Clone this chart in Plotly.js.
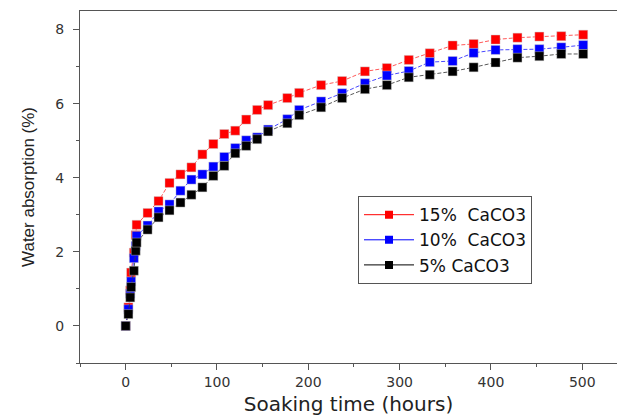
<!DOCTYPE html>
<html>
<head>
<meta charset="utf-8">
<script src="https://cdn.plot.ly/plotly-3.0.1.min.js"></script>
<style>
html, body { margin: 0; padding: 0; background: #fff; overflow: hidden; }
#chart { width: 617px; height: 416px; }
</style>
</head>
<body>
<div id="chart"></div>
<script>
// Soaking time (hours)
const hours = [0, 3, 5, 6, 9, 11, 12, 24, 36, 48, 60, 72, 84, 96, 108, 120, 132, 144, 156,
  177, 190, 214, 237, 262, 286, 310, 333, 358, 381, 405, 429, 453, 477, 501];
// Water absorption (%)
const caco3_15 = [0, 0.50, 0.96, 1.44, 1.98, 2.45, 2.73, 3.05, 3.37, 3.86, 4.09, 4.28, 4.63, 4.91, 5.18, 5.27, 5.57, 5.83, 5.96,
  6.15, 6.29, 6.50, 6.61, 6.87, 6.96, 7.18, 7.36, 7.57, 7.61, 7.73, 7.78, 7.81, 7.82, 7.86];
const caco3_10 = [0, 0.45, 0.87, 1.20, 1.83, 2.16, 2.43, 2.71, 3.09, 3.28, 3.65, 3.95, 4.09, 4.30, 4.56, 4.80, 5.01, 5.09, 5.30,
  5.58, 5.83, 6.06, 6.28, 6.55, 6.76, 6.88, 7.12, 7.15, 7.37, 7.45, 7.47, 7.47, 7.52, 7.58];
const caco3_5 = [0, 0.32, 0.77, 1.05, 1.49, 2.03, 2.25, 2.60, 2.93, 3.12, 3.33, 3.54, 3.74, 4.05, 4.32, 4.66, 4.86, 5.04, 5.25,
  5.47, 5.69, 5.90, 6.15, 6.39, 6.50, 6.71, 6.78, 6.87, 6.98, 7.11, 7.24, 7.28, 7.34, 7.34];
const seriesNames = ["15%\u00a0\u00a0CaCO3", "10%\u00a0\u00a0CaCO3", "5% CaCO3"];
const xTickVals = [0, 100, 200, 300, 400, 500];
const yTickVals = [0, 2, 4, 6, 8];

const colors = ["#ff0000", "#0000ff", "#000000"];
const lineColors = ["rgba(255,60,60,0.85)", "rgba(40,40,255,0.85)", "rgba(60,60,60,0.85)"];
const ys = [caco3_15, caco3_10, caco3_5];

const traces = [];
ys.forEach((y, i) => {
  traces.push({
    x: hours, y: y, type: "scatter", mode: "lines+markers",
    name: seriesNames[i], legendgroup: "g" + i, showlegend: false,
    line: { color: lineColors[i], width: 1, dash: "4px,2px" },
    marker: { symbol: "square", size: 9, color: colors[i], line: { color: "rgba(200,200,200,0.7)", width: 0.6 } }
  });
});
// legend entries (solid lines as in reference legend)
ys.forEach((y, i) => {
  traces.push({
    x: [null], y: [null], type: "scatter", mode: "lines+markers",
    name: seriesNames[i], legendgroup: "g" + i, showlegend: true,
    line: { color: colors[i], width: 1 },
    marker: { symbol: "square", size: 8, color: colors[i] }
  });
});

const axisFont = { family: "DejaVu Sans", size: 14, color: "#333" };
const layout = {
  width: 617, height: 416,
  margin: { l: 80, r: 0, t: 11, b: 53, pad: 0 },
  paper_bgcolor: "#fff", plot_bgcolor: "#fff",
  showlegend: true,
  xaxis: {
    range: [-50, 538], showgrid: false, zeroline: false,
    showline: true, linecolor: "#555", linewidth: 1, mirror: true,
    ticks: "outside", ticklen: 6, tickcolor: "#555", tickwidth: 1,
    tickvals: xTickVals, ticktext: xTickVals.map(String),
    minor: { dtick: 50, tick0: 0, ticks: "outside", ticklen: 3, tickcolor: "#555" },
    tickfont: axisFont,
    title: { text: "Soaking time (hours)", font: { family: "DejaVu Sans", size: 20, color: "#222" }, standoff: 14 }
  },
  yaxis: {
    range: [-1, 8.5], showgrid: false, zeroline: false,
    showline: true, linecolor: "#555", linewidth: 1, mirror: false,
    ticks: "outside", ticklen: 6, tickcolor: "#555", tickwidth: 1,
    tickvals: yTickVals, ticktext: yTickVals.map(String),
    minor: { dtick: 1, tick0: 0, ticks: "outside", ticklen: 3, tickcolor: "#555" },
    tickfont: axisFont, ticklabelstandoff: 6,
    title: { text: "Water absorption (%)", font: { family: "Liberation Sans", size: 17, color: "#222" }, standoff: 16 }
  },
  legend: {
    x: 0.5177, y: 0.474, xanchor: "left", yanchor: "top",
    bgcolor: "#fff", bordercolor: "#555", borderwidth: 1,
    font: { family: "DejaVu Sans", size: 17, color: "#111" },
    itemwidth: 50, tracegroupgap: 0
  }
};

Plotly.newPlot("chart", traces, layout, { staticPlot: true, displayModeBar: false });
</script>
</body>
</html>
